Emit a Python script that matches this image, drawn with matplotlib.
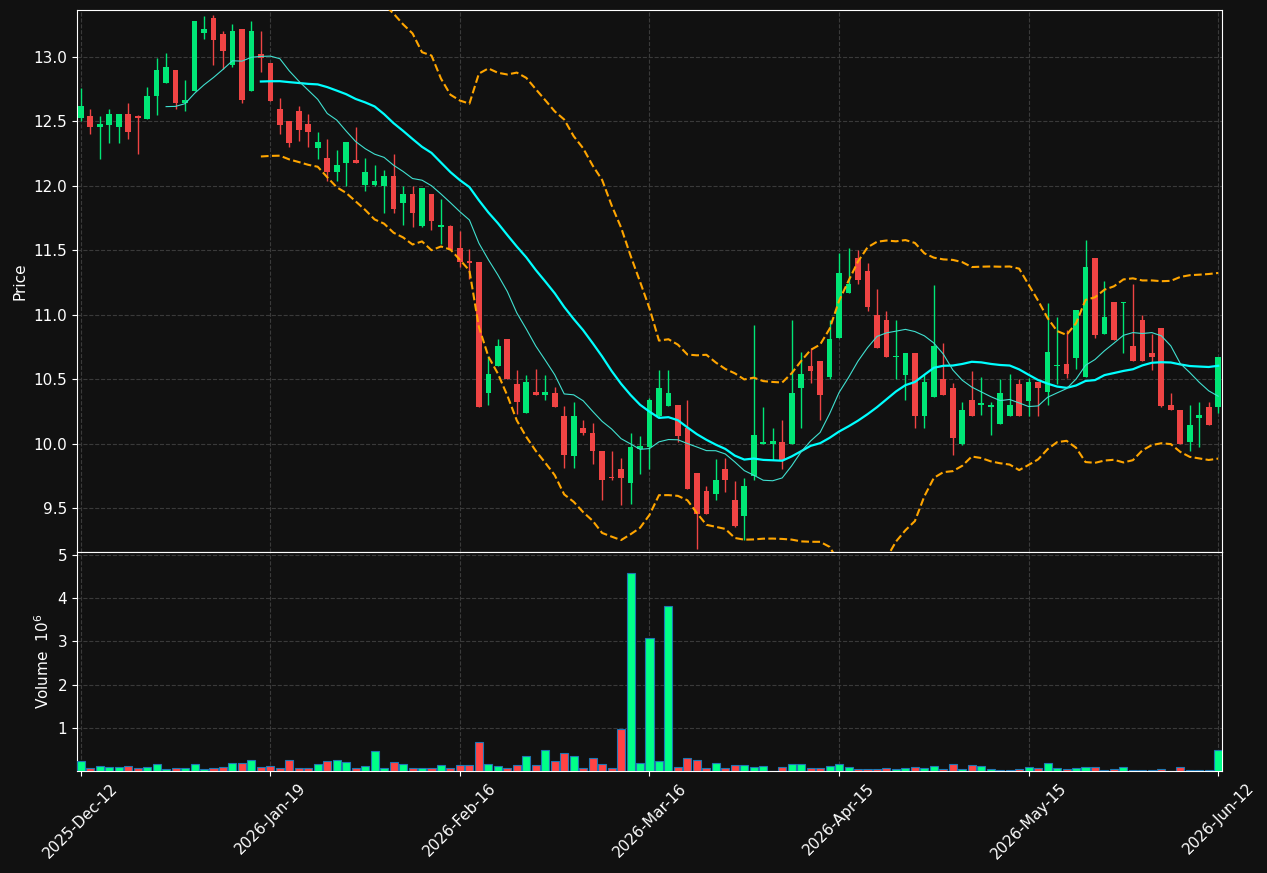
import numpy as np
import pandas as pd
import matplotlib
matplotlib.use("Agg")
import matplotlib.pyplot as plt

# OHLC, one row per trading day
opens = [12.53, 12.54, 12.46, 12.47, 12.46, 12.56, 12.54, 12.52, 12.70, 12.80,
         12.90, 12.64, 12.74, 13.19, 13.30, 13.18, 12.94, 13.22, 12.74, 13.02,
         12.95, 12.60, 12.50, 12.58, 12.48, 12.29, 12.22, 12.11, 12.18, 12.20,
         12.01, 12.01, 12.00, 12.08, 11.87, 11.94, 11.69, 11.94, 11.68, 11.69,
         11.52, 11.42, 11.41, 10.39, 10.60, 10.81, 10.46, 10.24, 10.40, 10.38,
         10.39, 10.21, 9.90, 10.12, 10.08, 9.94, 9.74, 9.80, 9.69, 9.96,
         9.97, 10.21, 10.29, 10.30, 10.12, 9.77, 9.63, 9.61, 9.80, 9.56,
         9.44, 9.75, 10.00, 10.00, 10.01, 10.00, 10.43, 10.60, 10.64, 10.52,
         10.82, 11.17, 11.44, 11.34, 11.00, 10.96, 10.67, 10.53, 10.70, 10.21,
         10.36, 10.50, 10.43, 10.00, 10.34, 10.30, 10.28, 10.15, 10.21, 10.46,
         10.33, 10.48, 10.40, 10.60, 10.62, 10.66, 10.52, 11.44, 10.85, 11.10,
         11.09, 10.76, 10.96, 10.70, 10.90, 10.30, 10.26, 10.01, 10.20, 10.28,
         10.28]
highs = [12.76, 12.60, 12.54, 12.60, 12.56, 12.64, 12.55, 12.77, 12.99, 13.03,
         12.90, 12.82, 13.28, 13.32, 13.33, 13.20, 13.26, 13.22, 13.28, 13.20,
         12.95, 12.68, 12.50, 12.62, 12.56, 12.42, 12.36, 12.28, 12.34, 12.46,
         12.22, 12.16, 12.12, 12.25, 12.00, 12.00, 11.98, 11.94, 11.90, 11.70,
         11.65, 11.51, 11.41, 10.68, 10.81, 10.81, 10.57, 10.53, 10.58, 10.53,
         10.44, 10.29, 10.32, 10.18, 10.16, 9.94, 9.94, 9.89, 10.08, 10.06,
         10.35, 10.57, 10.57, 10.30, 10.34, 9.77, 9.67, 9.88, 9.89, 9.71,
         9.73, 10.92, 10.28, 10.12, 10.18, 10.96, 10.71, 10.74, 10.64, 10.96,
         11.48, 11.52, 11.50, 11.40, 11.20, 11.03, 10.96, 10.70, 10.70, 10.54,
         11.23, 10.78, 10.47, 10.32, 10.56, 10.52, 10.32, 10.50, 10.54, 10.50,
         10.51, 10.48, 11.09, 10.98, 10.88, 11.04, 11.58, 11.44, 11.26, 11.10,
         11.10, 11.24, 11.00, 10.85, 10.90, 10.39, 10.26, 10.30, 10.32, 10.32,
         10.67]
lows = [12.50, 12.40, 12.21, 12.33, 12.33, 12.36, 12.25, 12.52, 12.55, 12.80,
        12.60, 12.58, 12.74, 13.14, 12.94, 12.91, 12.92, 12.64, 12.74, 12.88,
        12.66, 12.40, 12.30, 12.35, 12.30, 12.21, 12.04, 12.04, 12.00, 12.18,
        11.96, 12.00, 11.79, 11.79, 11.70, 11.68, 11.68, 11.66, 11.55, 11.50,
        11.37, 11.28, 10.28, 10.30, 10.60, 10.50, 10.23, 10.24, 10.38, 10.34,
        10.28, 9.81, 9.81, 10.07, 9.84, 9.56, 9.72, 9.52, 9.53, 9.76,
        9.80, 10.20, 10.29, 10.01, 9.65, 9.18, 9.45, 9.56, 9.62, 9.35,
        9.25, 9.72, 10.00, 9.87, 9.80, 10.00, 10.12, 10.47, 10.18, 10.50,
        10.82, 11.17, 11.24, 11.03, 10.74, 10.67, 10.50, 10.34, 10.12, 10.12,
        10.36, 10.38, 9.91, 9.99, 10.21, 10.22, 10.07, 10.15, 10.21, 10.21,
        10.21, 10.21, 10.30, 10.46, 10.51, 10.58, 10.52, 10.82, 10.85, 10.80,
        10.70, 10.64, 10.64, 10.57, 10.28, 10.26, 10.00, 9.94, 9.97, 10.14,
        10.24]
closes = [12.62, 12.46, 12.48, 12.56, 12.56, 12.42, 12.53, 12.70, 12.90, 12.92,
          12.64, 12.67, 13.28, 13.22, 13.13, 13.05, 13.20, 12.67, 13.20, 12.99,
          12.66, 12.47, 12.33, 12.43, 12.42, 12.34, 12.11, 12.16, 12.34, 12.18,
          12.11, 12.04, 12.08, 11.82, 11.94, 11.79, 11.98, 11.73, 11.70, 11.50,
          11.41, 11.40, 10.28, 10.54, 10.76, 10.50, 10.32, 10.48, 10.38, 10.40,
          10.28, 9.91, 10.21, 10.08, 9.94, 9.72, 9.73, 9.73, 9.97, 9.98,
          10.34, 10.43, 10.39, 10.06, 9.65, 9.45, 9.45, 9.72, 9.72, 9.36,
          9.67, 10.07, 10.00, 10.02, 9.87, 10.39, 10.54, 10.56, 10.38, 10.81,
          11.32, 11.24, 11.27, 11.06, 10.74, 10.67, 10.67, 10.70, 10.21, 10.48,
          10.76, 10.38, 10.04, 10.26, 10.21, 10.30, 10.30, 10.39, 10.30, 10.21,
          10.48, 10.43, 10.71, 10.60, 10.54, 11.04, 11.37, 10.84, 10.98, 10.80,
          11.09, 10.64, 10.64, 10.67, 10.29, 10.26, 10.00, 10.14, 10.22, 10.14,
          10.67]
volumes = [0.23, 0.06, 0.12, 0.09, 0.09, 0.12, 0.07, 0.09, 0.16, 0.04,
           0.07, 0.06, 0.16, 0.04, 0.07, 0.09, 0.19, 0.19, 0.26, 0.09,
           0.12, 0.06, 0.26, 0.08, 0.08, 0.16, 0.23, 0.25, 0.21, 0.08,
           0.11, 0.46, 0.08, 0.20, 0.16, 0.08, 0.08, 0.08, 0.13, 0.07,
           0.13, 0.13, 0.67, 0.16, 0.11, 0.06, 0.13, 0.34, 0.13, 0.48,
           0.22, 0.41, 0.34, 0.08, 0.31, 0.16, 0.08, 0.97, 4.58, 0.19,
           3.09, 0.22, 3.81, 0.09, 0.29, 0.25, 0.06, 0.18, 0.08, 0.13,
           0.13, 0.10, 0.11, 0.01, 0.09, 0.16, 0.16, 0.06, 0.06, 0.11,
           0.16, 0.09, 0.04, 0.04, 0.04, 0.06, 0.04, 0.06, 0.09, 0.06,
           0.11, 0.04, 0.16, 0.04, 0.13, 0.11, 0.04, 0.02, 0.02, 0.04,
           0.09, 0.06, 0.18, 0.06, 0.04, 0.06, 0.09, 0.09, 0.02, 0.04,
           0.09, 0.02, 0.02, 0.02, 0.04, 0.01, 0.09, 0.02, 0.02, 0.02,
           0.48]
tick_idx = [0, 20, 40, 60, 80, 100, 120]
tick_labels = ['2025-Dec-12', '2026-Jan-19', '2026-Feb-16', '2026-Mar-16',
               '2026-Apr-15', '2026-May-15', '2026-Jun-12']

df = pd.DataFrame({'Open': opens, 'High': highs, 'Low': lows,
                   'Close': closes, 'Volume': volumes})
x = np.arange(len(df))
ma10 = df['Close'].rolling(10).mean()
ma20 = df['Close'].rolling(20).mean()
sd20 = df['Close'].rolling(20).std()

bg = '#111111'
up_c, dn_c = '#00e676', '#ef4444'
vup_c, vdn_c = '#00ff88', '#ff4444'

fig = plt.figure(figsize=(12.67, 8.73), dpi=100, facecolor=bg)
ax = fig.add_axes([77/1267, 1-552/873, 1145/1267, 542/873])
axv = fig.add_axes([77/1267, 1-771/873, 1145/1267, 219/873], sharex=ax)

up = df['Close'] >= df['Open']
cols = np.where(up, up_c, dn_c)
ax.vlines(x, df['Low'], df['High'], colors=cols, lw=1, zorder=2)
body_lo = np.minimum(df['Open'], df['Close'])
body_h = np.maximum(np.abs(df['Close'] - df['Open']), 0.012)
ax.bar(x, body_h, bottom=body_lo, width=0.6, color=cols, zorder=3)

ax.plot(x, ma20, color='#00ffff', lw=1.6, zorder=4)
ax.plot(x, ma10, color='#40e0d0', lw=0.8, zorder=4)
ax.plot(x, ma20 + 2*sd20, color='#ffa500', lw=1.5, ls='--', zorder=4)
ax.plot(x, ma20 - 2*sd20, color='#ffa500', lw=1.5, ls='--', zorder=4)

vcols = np.where(up, vup_c, vdn_c)
axv.bar(x, df['Volume'], width=0.85, color=vcols, edgecolor='#1f77b4',
        lw=0.8, zorder=3)

for a in (ax, axv):
    a.set_facecolor(bg)
    a.grid(True, color='#3a3a3a', ls='--', lw=0.8)
    a.tick_params(colors='white', labelsize=11)
    for s in a.spines.values():
        s.set_color('white')

ax.set_ylim(9.158, 13.365)
ax.set_yticks([9.5, 10.0, 10.5, 11.0, 11.5, 12.0, 12.5, 13.0])
ax.set_ylabel('Price', color='white', fontsize=11)
ax.tick_params(axis='x', labelbottom=False)

axv.set_xlim(-0.4, 120.4)
axv.set_ylim(0, 5.07)
axv.set_yticks([1, 2, 3, 4, 5])
axv.set_ylabel(r'Volume  $10^{6}$', color='white', fontsize=11)
axv.set_xticks(tick_idx)
axv.set_xticklabels(tick_labels, rotation=45, ha='center')

fig.savefig('out.png', dpi=100, facecolor=bg)
